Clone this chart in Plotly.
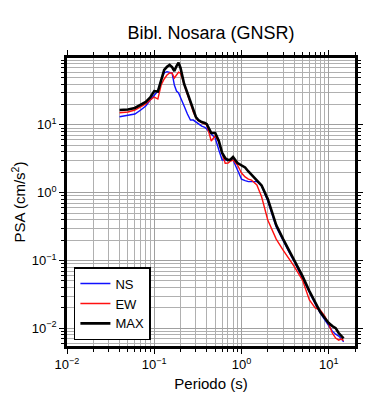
import plotly.graph_objects as go

# Period (s)
periods = [0.04, 0.05, 0.06, 0.07, 0.08, 0.09, 0.10, 0.11, 0.12, 0.13, 0.14, 0.15,
           0.16, 0.17, 0.18, 0.19, 0.20, 0.22, 0.24, 0.26, 0.28, 0.30, 0.32, 0.35,
           0.38, 0.40, 0.45, 0.50, 0.55, 0.60, 0.65, 0.70, 0.75, 0.80, 0.90, 1.0,
           1.1, 1.2, 1.3, 1.5, 1.7, 2.0, 2.5, 3.0, 3.5, 4.0, 5.0, 6.0, 7.0, 8.0,
           9.0, 10.0, 11.0, 12.0, 13.0, 14.0, 14.8]

psa_ns = [13.2, 14.0, 14.5, 16.6, 19.0, 23.3, 27.6, 31.6, 46.0, 58.4, 61.0, 60.4,
          58.4, 38.8, 31.6, 29.6, 25.8, 19.0, 14.5, 11.8, 11.8, 11.0, 10.3, 9.6,
          9.2, 8.7, 7.35, 6.4, 4.27, 3.04, 3.04, 3.04, 3.04, 3.04, 2.16, 1.59,
          1.51, 1.46, 1.46, 1.46, 1.26, 0.755, 0.312, 0.194, 0.134, 0.098, 0.055, 0.033,
          0.0229, 0.0168, 0.0133, 0.0108, 0.0091, 0.0082, 0.0077, 0.0070, 0.0063]

psa_ew = [15.1, 15.5, 16.6, 18.4, 20.4, 23.3, 25.8, 24.1, 38.8, 47.6, 54.5, 58.4,
          58.4, 49.2, 55.0, 60.0, 58.0, 38.0, 28.0, 21.0, 15.5, 12.8, 11.5, 10.8,
          10.4, 10.0, 5.8, 6.9, 5.6, 3.86, 2.72, 2.74, 2.94, 3.04, 2.56, 1.95,
          1.71, 1.59, 1.54, 1.30, 0.873, 0.396, 0.207, 0.143, 0.109, 0.083, 0.0516, 0.0262,
          0.0200, 0.0186, 0.0152, 0.0116, 0.0085, 0.0072, 0.0067, 0.0070, 0.0066]

psa_max = [16.6, 16.9, 17.8, 19.7, 21.8, 25.4, 31.6, 31.1, 46.0, 64.6, 72.0, 76.6,
           71.5, 62.4, 74.0, 82.8, 69.2, 40.2, 29.6, 21.8, 16.0, 13.1, 11.8, 11.0,
           10.7, 10.3, 7.6, 7.6, 5.8, 3.86, 3.25, 3.04, 3.09, 3.36, 2.74, 2.56,
           2.36, 2.06, 1.86, 1.54, 1.28, 0.81, 0.334, 0.207, 0.143, 0.105, 0.059, 0.0355,
           0.0244, 0.0174, 0.0142, 0.0120, 0.0108, 0.0101, 0.00853, 0.0077, 0.0071]

x_tickvals = [0.01, 0.1, 1, 10]
x_ticktext = ["10<sup>−2</sup>", "10<sup>−1</sup>", "10<sup>0</sup>", "10<sup>1</sup>"]
y_tickvals = [0.01, 0.1, 1, 10]
y_ticktext = ["10<sup>−2</sup>", "10<sup>−1</sup>", "10<sup>0</sup>", "10<sup>1</sup>"]

minor_vals = [m * 10.0 ** e for e in range(-3, 3) for m in range(2, 10)]

FONT = "Liberation Sans, Arial, Helvetica, sans-serif"

# The page body adds an 8px margin, so the figure is sized/offset to compensate.
W, H = 382, 392

fig = go.Figure()
fig.add_trace(go.Scatter(x=periods, y=psa_ns, mode="lines", name="NS",
                         line=dict(color="#1010ff", width=1.4)))
fig.add_trace(go.Scatter(x=periods, y=psa_ew, mode="lines", name="EW",
                         line=dict(color="#ff1010", width=1.4)))
fig.add_trace(go.Scatter(x=periods, y=psa_max, mode="lines", name="MAX",
                         line=dict(color="black", width=2.6)))

axis_common = dict(
    type="log", automargin=False,
    showline=True, linecolor="black", linewidth=2.5, mirror="allticks",
    ticks="outside", ticklen=5, tickwidth=1, tickcolor="black",
    showgrid=True, gridcolor="#a0a0a0", gridwidth=0.9,
    zeroline=False,
    tickfont=dict(family=FONT, size=13, color="black"),
    minor=dict(tickvals=minor_vals, ticks="outside", ticklen=3, tickwidth=1,
               tickcolor="black", showgrid=True, gridcolor="#b0b0b0", gridwidth=0.9),
)

fig.update_xaxes(**axis_common, range=[-2, 1.301],
                 tickmode="array", tickvals=x_tickvals, ticktext=x_ticktext,
                 title=dict(text="Periodo (s)", font=dict(family=FONT, size=15, color="black"),
                            standoff=8))
fig.update_yaxes(**axis_common, range=[-2.26, 1.987],
                 tickmode="array", tickvals=y_tickvals, ticktext=y_ticktext,
                 title=dict(text="PSA (cm/s<sup>2</sup>)", font=dict(family=FONT, size=15, color="black"),
                            standoff=3))

fig.update_layout(
    width=W, height=H,
    margin=dict(l=59, r=35, t=50, b=54, autoexpand=False),
    paper_bgcolor="white", plot_bgcolor="white",
    font=dict(family=FONT, color="black"),
    title=dict(text="Bibl. Nosara (GNSR)", x=203 / W, xanchor="center",
               xref="container", yref="container",
               y=1 - 25 / H, yanchor="middle", automargin=False,
               font=dict(family=FONT, size=18, color="black")),
    showlegend=True,
    legend=dict(x=0.024, y=0.274, xanchor="left", yanchor="top",
                bgcolor="white", bordercolor="black", borderwidth=1.5,
                font=dict(family=FONT, size=13, color="black"),
                itemwidth=30, tracegroupgap=0),
)

fig.write_html("out.html")
